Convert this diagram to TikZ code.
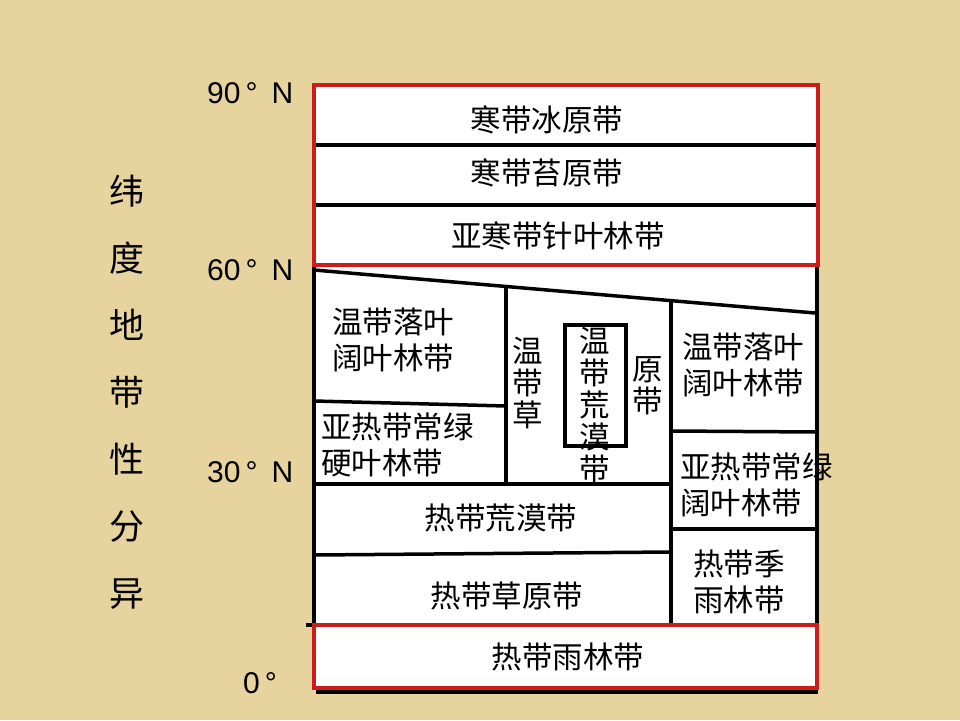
\documentclass[tikz,border=0pt]{standalone}
\usepackage{fontspec}
\setmainfont{Liberation Sans}
\newfontfamily\cjk{Noto Sans CJK SC}
\definecolor{bg}{RGB}{230,211,158}
\definecolor{redl}{RGB}{205,28,28}
\tikzset{
  zone/.style={font=\cjk\fontsize{30.5}{36}\selectfont, align=center, inner sep=0pt},
  zonel/.style={font=\cjk\fontsize{30.5}{36}\selectfont, align=left, inner sep=0pt, anchor=west},
  vert/.style={font=\cjk\fontsize{30.5}{32}\selectfont, align=center, inner sep=0pt},
  big/.style={font=\cjk\fontsize{35}{67}\selectfont, align=center, inner sep=0pt},
  lat/.style={font=\fontsize{30}{32}\selectfont, inner sep=0pt, anchor=west},
  blk/.style={line width=3.5pt, black},
  redbox/.style={line width=3.5pt, draw=redl}
}
\begin{document}
\begin{tikzpicture}[x=1pt,y={(0pt,-1pt)}]
\useasboundingbox (0,0) rectangle (960,720);
\fill[bg] (0,0) rectangle (960,720);
% white area
\fill[white] (314,85) rectangle (818,690);
% lower frame
\draw[blk] (314,265) -- (314,625);
\draw[blk] (817,265) -- (817,625);
\draw[blk] (306,625) -- (314,625);
\draw[blk] (316,692) -- (818,692);
% slanted line
\coordinate (sl) at (314,270);
\coordinate (sr) at (815,313);
\draw[blk] (sl) -- (sr);
% verticals
\draw[blk] (506,286.5) -- (506,485);
\draw[blk] (671,300.5) -- (671,625);
% left column lines
\draw[blk] (314,401) -- (506,406);
\draw[blk] (314,484) -- (671,484);
\draw[blk] (314,555) -- (671,552);
% right column lines
\draw[blk] (671,431) -- (817,432);
\draw[blk] (671,529) -- (817,529);
% small desert box
\draw[blk] (565,325) rectangle (626,446);
% top zone lines
\draw[blk] (314,145) -- (818,145);
\draw[blk] (314,205) -- (818,205);
% red boxes
\draw[redbox] (314,85) rectangle (818,265);
\draw[redbox] (314,625) rectangle (817,688);

% labels
\node[zone] (n1) at (547,120) {寒带冰原带};
\node[zone] (n2) at (547,173) {寒带苔原带};
\node[zone] (n3) at (558,236) {亚寒带针叶林带};
\node[zone] (n4) at (393,340) {温带落叶\\阔叶林带};
\node[zonel] (n5) at (321,445) {亚热带常绿\\硬叶林带};
\node[vert] (n6) at (528,383) {温\\带\\草};
\node[vert] (n7) at (595,405) {温\\带\\荒\\漠\\带};
\node[vert] (n8) at (648,386) {原\\带};
\node[zone] (n9) at (743,365) {温带落叶\\阔叶林带};
\node[zonel] (n10) at (680,485) {亚热带常绿\\阔叶林带};
\node[zone] (n11) at (501,518) {热带荒漠带};
\node[zone] (n12) at (507,596) {热带草原带};
\node[zone] (n13) at (739,582) {热带季\\雨林带};
\node[zone] (n14) at (568,657) {热带雨林带};
\node[big] (side) at (127,392) {纬\\度\\地\\带\\性\\分\\异};
\node[lat] (l90) at (207,93) {90\hspace{5pt}°\hspace{14pt}N};
\node[lat] (l60) at (207,270) {60\hspace{5pt}°\hspace{14pt}N};
\node[lat] (l30) at (207,472) {30\hspace{5pt}°\hspace{14pt}N};
\node[lat] (l0) at (243,683) {0\hspace{5pt}°};
\end{tikzpicture}
\end{document}
